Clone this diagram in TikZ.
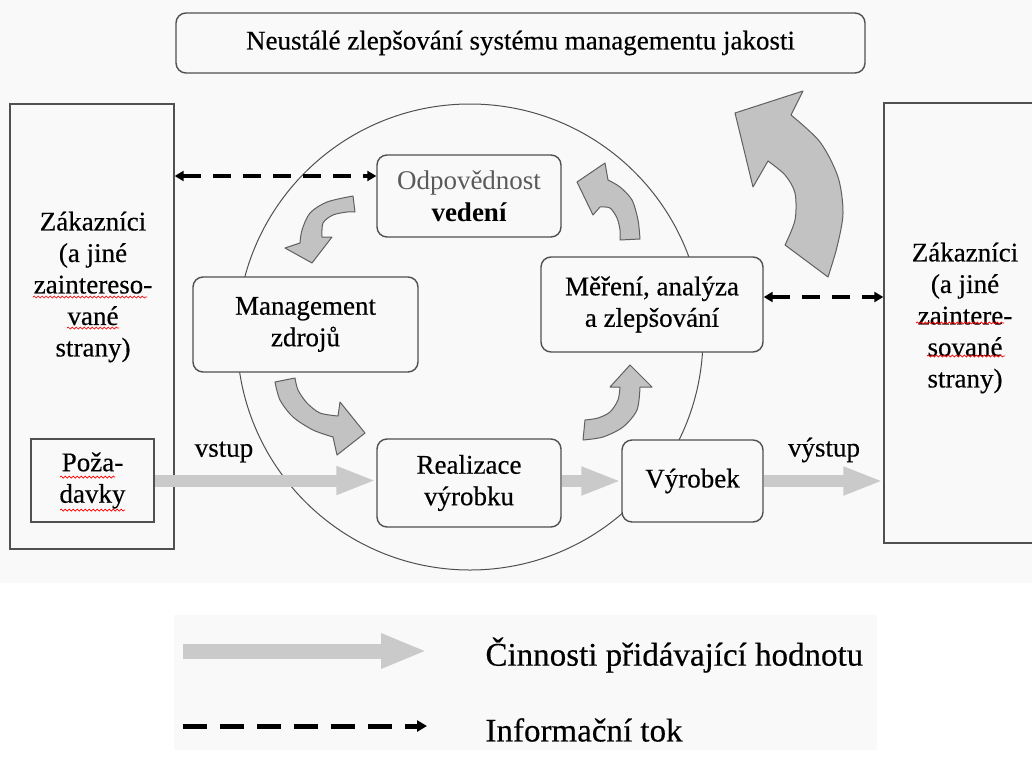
\documentclass[tikz,border=0pt]{standalone}
\usepackage{fontspec}
\setmainfont{Liberation Serif}
\newfontfamily\heavyfont{Liberation Serif}[FakeBold=0.4]
\usetikzlibrary{arrows.meta,decorations.pathmorphing,calc}
\definecolor{bg}{HTML}{F8F9F8}
\definecolor{boxline}{HTML}{505050}
\definecolor{arrfill}{HTML}{C2C2C2}
\definecolor{arrline}{HTML}{606060}
\definecolor{vafill}{HTML}{CACACA}
\definecolor{odpgray}{HTML}{5A5A5A}
\begin{document}
\begin{tikzpicture}[x=1pt,y=-1pt,
  txt/.style={font=\heavyfont\fontsize{27}{31.5}\selectfont, align=center, text=black},
  rbox/.style={draw=boxline, line width=1.4pt, rounded corners=10pt, fill=bg, txt, inner sep=0pt},
  sbox/.style={draw=boxline, line width=1.4pt, fill=bg, inner sep=0pt},
  carrow/.style={fill=arrfill, draw=arrline, line width=1pt, line join=round},
  va/.style={draw=vafill, line width=12pt, -{Triangle[width=26pt,length=40pt]}},
  info/.style={draw=black, line width=3.5pt, dash pattern=on 18pt off 12pt, {Triangle[width=10pt,length=9pt]}-{Triangle[width=10pt,length=9pt]}},
  spell/.style={draw=red, line width=0.7pt, decorate, decoration={snake, amplitude=1pt, segment length=4pt}}]
\useasboundingbox (0,0) rectangle (1032,760);
\clip (0,0) rectangle (1032,760);
\fill[white] (0,0) rectangle (1032,760);
\fill[bg] (0,0) rectangle (1032,583);
\fill[bg] (174,615) rectangle (877,750);

% big circle
\node[draw=boxline, line width=1pt, circle, minimum size=466pt, inner sep=0pt] (cyc) at (470,337) {};

% customer boxes
\node[sbox, minimum width=164pt, minimum height=445pt] (lzak) at (92,326.5) {};
\node[txt] (lzakt) at (93,287) {Zákazníci\\(a jiné\\zaintereso-\\vané\\strany)};
\node[sbox, minimum width=170pt, minimum height=440pt] (rzak) at (969,323) {};
\node[txt] (rzakt) at (965,318) {Zákazníci\\(a jiné\\zaintere-\\sované\\strany)};
\node[sbox, txt, minimum width=123pt, minimum height=83pt] (poz) at (92.5,480.5) {Poža-\\davky};

% top box
\node[rbox, minimum width=689pt, minimum height=60pt] (top) at (520.5,43) {Neustálé zlepšování systému managementu jakosti};

% process boxes
\node[rbox, minimum width=184pt, minimum height=82pt] (odp) at (469,196) {{\rmfamily\color{odpgray}Odpovědnost}\\{\rmfamily\bfseries vedení}};
\node[rbox, minimum width=225pt, minimum height=95pt] (man) at (305.5,324.5) {Management\\zdrojů};
\node[rbox, minimum width=222pt, minimum height=95pt] (mer) at (652,304.5) {Měření, analýza\\a zlepšování};
\node[rbox, minimum width=184pt, minimum height=88pt] (real) at (469,483) {Realizace\\výrobku};
\node[rbox, minimum width=141pt, minimum height=82pt] (vyr) at (692.5,481) {Výrobek};

% information flows
\coordinate (d1) at ([yshift=20pt]odp.west);
\draw[info] (d1 -| lzak.east) -- (d1);
\coordinate (d2) at ([yshift=7.5pt]mer.east);
\draw[info] (d2) -- (d2 -| rzak.west);

% value adding flows
\draw[va] (poz.east) -- (poz.east -| real.west);
\draw[va] (vyr.west -| real.east) -- (vyr.west);
\draw[va] (vyr.east) -- (vyr.east -| rzak.west);
\node[txt] (vstup) at (224,452) {vstup};
\node[txt] (vystup) at (824,450) {výstup};

% curved arrows
\draw[carrow] (735,113) -- (803,91) -- (791,115) -- plot[smooth] coordinates {(791,115) (820,142) (838,177) (843,213) (837,247) (828,277)} -- (785,245) -- plot[smooth] coordinates {(785,245) (795,220) (795,193) (785,175) (768,161)} -- (753,187) -- cycle;
\draw[carrow] (353,196) -- plot[smooth] coordinates {(353,196) (327,202) (310,213) (302,230) (300,243)} -- (285,248) -- (312,263) -- (332,237) -- (322,237) -- plot[smooth] coordinates {(322,237) (323,223) (333,215) (347,212) (355,212)} -- cycle;
\draw[carrow] (640,239) -- plot[smooth] coordinates {(640,239) (638,220) (632,200) (620,187) (608,180)} -- (605,163) -- (577,182) -- (593,215) -- (600,207) -- plot[smooth] coordinates {(600,207) (610,208) (617,218) (620,230) (620,240)} -- cycle;
\draw[carrow] (275,382) -- plot[smooth] coordinates {(275,382) (280,400) (293,417) (313,430) (333,437)} -- (337,455) -- (365,433) -- (340,402) -- (338,416) -- plot[smooth] coordinates {(338,416) (320,413) (307,403) (298,390) (295,378)} -- cycle;
\draw[carrow] (583,440) -- plot[smooth] coordinates {(583,440) (603,437) (623,427) (637,410) (640,387)} -- (652,387) -- (630,365) -- (610,387) -- (620,387) -- plot[smooth] coordinates {(620,387) (618,400) (610,412) (598,418) (585,420)} -- cycle;

% spelling marks
\draw[spell] (33,297) -- (147,297);
\draw[spell] (67,328) -- (119,328);
\draw[spell] (916,323) -- (1004,323);
\draw[spell] (927,356) -- (1005,356);
\draw[spell] (60,477) -- (115,477);
\draw[spell] (60,510) -- (125,510);

% legend
\coordinate (l1a) at (183,651);
\coordinate (l1b) at (427,651);
\draw[va, line width=15pt, -{Triangle[width=32pt,length=46pt]}] (l1a) -- (l1b);
\node[anchor=west, font=\heavyfont\fontsize{33}{37}\selectfont] (lg1) at (482,655) {Činnosti přidávající hodnotu};
\coordinate (l2a) at (183,726);
\coordinate (l2b) at (427,726);
\draw[line width=5pt, dash pattern=on 24pt off 13pt, -{Triangle[width=11pt,length=10pt]}] (l2a) -- (l2b);
\node[anchor=west, font=\heavyfont\fontsize{33}{37}\selectfont] (lg2) at (482,730) {Informační tok};
\end{tikzpicture}
\end{document}
